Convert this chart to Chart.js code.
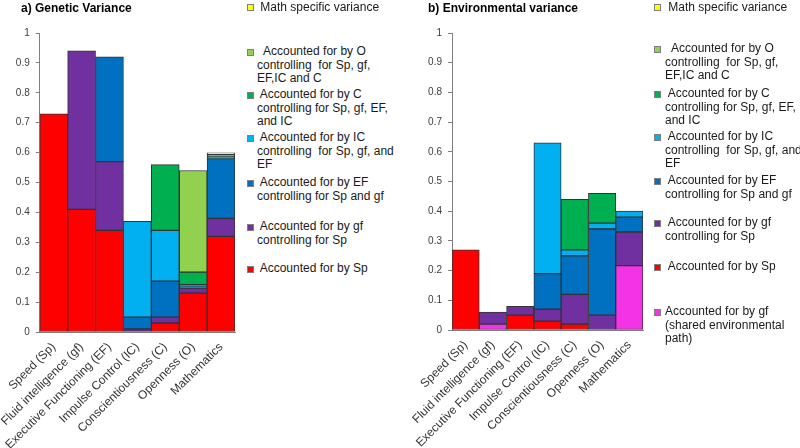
<!DOCTYPE html>
<html>
<head>
<meta charset="utf-8">
<script src="https://cdn.jsdelivr.net/npm/chart.js@4.4.1/dist/chart.umd.min.js"></script>
<style>
  html, body { margin: 0; padding: 0; background: #fff; }
  body { width: 800px; height: 448px; position: relative; overflow: hidden; font-family: "Liberation Sans", Arial, sans-serif; }
  .box { position: absolute; top: 0; height: 448px; }
  .title { position: absolute; font-weight: bold; font-size: 12px; color: #000; white-space: pre; }
  .leg { position: absolute; font-size: 12px; line-height: 13.5px; color: #1a1a1a; white-space: pre; }
  .sw { position: absolute; width: 5px; height: 5px; border: 1px solid #7f7f7f; }
</style>
</head>
<body>
<div class="box" style="left:0;width:240px"><canvas id="genChart"></canvas></div>
<div class="box" style="left:400px;width:250px"><canvas id="envChart"></canvas></div>
<div class="title" style="left:21px;top:1px">a) Genetic Variance</div>
<div class="title" style="left:428px;top:1px">b) Environmental variance</div>
<div id="legends"></div>
<script>
// --- dados ---
const categories = ['Speed (Sp)', 'Fluid intelligence (gf)', 'Executive Functioning (EF)',
  'Impulse Control (IC)', 'Conscientiousness (C)', 'Openness (O)', 'Mathematics'];
const yTicks = [0, 0.1, 0.2, 0.3, 0.4, 0.5, 0.6, 0.7, 0.8, 0.9, 1];

// a) Genetic
const genSp   = [0.73, 0.41, 0.34, null, 0.03, 0.13, 0.32];
const genGf   = [null, 0.53, 0.23, 0.01, 0.02, 0.017, 0.06];
const genEF   = [null, null, 0.35, 0.04, 0.12, 0.003, 0.20];
const genIC   = [null, null, null, 0.32, 0.17, 0.008, 0.002];
const genC    = [null, null, null, null, 0.22, 0.042, 0.006];
const genO    = [null, null, null, null, null, 0.34, 0.006];
const genMath = [null, null, null, null, null, null, 0.005];

// b) Environmental
const envShared = [null, 0.02, null, null, null, null, 0.217];
const envSp     = [0.27, null, 0.05, 0.03, 0.02, null, null];
const envGf     = [null, 0.04, 0.03, 0.04, 0.10, 0.05, 0.113];
const envEF     = [null, null, null, 0.12, 0.13, 0.29, 0.05];
const envIC     = [null, null, null, 0.44, 0.02, 0.02, 0.02];
const envC      = [null, null, null, null, 0.17, 0.10, null];

const legendLabels = [
  ' Math specific variance',
  '  Accounted for by O\ncontrolling  for Sp, gf,\nEF,IC and C',
  ' Accounted for by C\ncontrolling for Sp, gf, EF,\nand IC',
  ' Accounted for by IC\ncontrolling  for Sp, gf, and\nEF',
  ' Accounted for by EF\ncontrolling for Sp and gf',
  ' Accounted for by gf\ncontrolling for Sp',
  ' Accounted for by Sp'
];
const sharedLabel = 'Accounted for by gf\n(shared environmental\npath)';

const colors = {
  math: '#FFFF00', O: '#92D050', C: '#00B050', IC: '#00B0F0',
  EF: '#0070C0', gf: '#7030A0', Sp: '#FF0000', shared: '#F533E6'
};
const legendColors = [colors.math, colors.O, colors.C, colors.IC, colors.EF, colors.gf, colors.Sp];

// posições da legenda (centro da 1a linha)
const genLegendY = [7.5, 52, 95, 138, 183, 227, 269];
const envLegendY = [7.5, 49, 94, 137, 181, 223, 267, 312];

function ds(label, data, color) {
  return {
    label, data, backgroundColor: color,
    borderColor: '#333333', borderWidth: 1, borderSkipped: false,
    barPercentage: 1, categoryPercentage: 1
  };
}

function makeOptions(yWidth, xHeight, padRight) {
  return {
    responsive: false,
    animation: false,
    layout: { padding: { top: 33, right: padRight, left: 0, bottom: 0 } },
    plugins: { legend: { display: false }, tooltip: { enabled: false } },
    scales: {
      x: {
        stacked: true,
        grid: { display: false, drawTicks: false },
        border: { display: true, color: '#7f7f7f' },
        ticks: {
          minRotation: 45, maxRotation: 45, autoSkip: false, padding: 8,
          color: '#333333', font: { family: 'Liberation Sans', size: 12 }
        },
        afterFit: s => { s.height = xHeight; }
      },
      y: {
        stacked: true, min: 0, max: 1,
        afterBuildTicks: s => { s.ticks = yTicks.map(v => ({ value: v })); },
        grid: { drawOnChartArea: false, drawTicks: true, tickLength: 4, color: '#7f7f7f' },
        border: { display: true, color: '#7f7f7f' },
        ticks: {
          padding: 6, color: '#404040', font: { family: 'Liberation Sans', size: 10 },
          callback: v => String(Math.round(v * 10) / 10)
        },
        afterFit: s => { s.width = yWidth; }
      }
    }
  };
}

const genCanvas = document.getElementById('genChart');
genCanvas.width = 240; genCanvas.height = 448;
new Chart(genCanvas, {
  type: 'bar',
  data: {
    labels: categories,
    datasets: [
      ds('Sp', genSp, colors.Sp),
      ds('gf', genGf, colors.gf),
      ds('EF', genEF, colors.EF),
      ds('IC', genIC, colors.IC),
      ds('C', genC, colors.C),
      ds('O', genO, colors.O),
      ds('Math', genMath, colors.math)
    ]
  },
  options: makeOptions(39, 116, 5)
});

const envCanvas = document.getElementById('envChart');
envCanvas.width = 250; envCanvas.height = 448;
new Chart(envCanvas, {
  type: 'bar',
  data: {
    labels: categories,
    datasets: [
      ds('shared', envShared, colors.shared),
      ds('Sp', envSp, colors.Sp),
      ds('gf', envGf, colors.gf),
      ds('EF', envEF, colors.EF),
      ds('IC', envIC, colors.IC),
      ds('C', envC, colors.C)
    ]
  },
  options: makeOptions(52, 118, 7)
});

// legendas em HTML (texto quebrado como no original)
const legends = document.getElementById('legends');
function addLegend(label, color, cy, swX, textX) {
  const sw = document.createElement('div');
  sw.className = 'sw';
  sw.style.left = swX + 'px';
  sw.style.top = (cy - 3.5) + 'px';
  sw.style.background = color;
  legends.appendChild(sw);
  const t = document.createElement('div');
  t.className = 'leg';
  t.style.left = textX + 'px';
  t.style.top = (cy - 6.75) + 'px';
  t.textContent = label;
  legends.appendChild(t);
}
legendLabels.forEach((l, i) => addLegend(l, legendColors[i], genLegendY[i], 247, 257));
legendLabels.forEach((l, i) => addLegend(l, legendColors[i], envLegendY[i], 654, 665));
addLegend(sharedLabel, colors.shared, envLegendY[7], 654, 665);
</script>
</body>
</html>
